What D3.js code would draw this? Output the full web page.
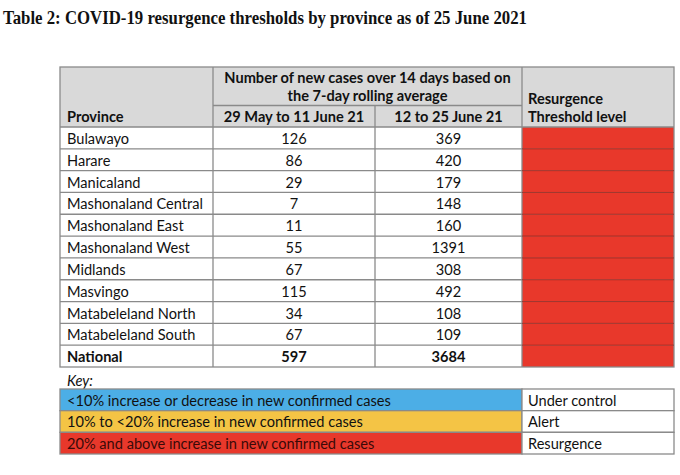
<!DOCTYPE html>
<html lang="en">
<head>
<meta charset="utf-8">
<title>COVID-19 resurgence thresholds</title>
<script src="https://cdn.jsdelivr.net/npm/d3@7"></script>
<style>
  body { margin: 0; background: #fff; }
  text { font-family: Lato, "Open Sans", sans-serif; fill: #111; }
</style>
</head>
<body>
<script>
// data
var provinces = ["Bulawayo", "Harare", "Manicaland", "Mashonaland Central", "Mashonaland East",
                 "Mashonaland West", "Midlands", "Masvingo", "Matabeleland North", "Matabeleland South", "National"];
var period1 = [126, 86, 29, 7, 11, 55, 67, 115, 34, 67, 597];
var period2 = [369, 420, 179, 148, 160, 1391, 308, 492, 108, 109, 3684];
var thresholdLevel = ["Resurgence", "Resurgence", "Resurgence", "Resurgence", "Resurgence",
                      "Resurgence", "Resurgence", "Resurgence", "Resurgence", "Resurgence", "Resurgence"];
var keyLabels = ["<10% increase or decrease in new confirmed cases",
                 "10% to <20% increase in new confirmed cases",
                 "20% and above increase in new confirmed cases"];
var keyLevels = ["Under control", "Alert", "Resurgence"];

var width = 680, height = 475;
var border = "#8a8a8a";
var fs = "14.6px";
var colour = d3.scaleOrdinal()
    .domain(["Under control", "Alert", "Resurgence"])
    .range(["#4caee6", "#f4c445", "#e8382b"]);

// column edges
var x0 = 60, x1 = 213, x2 = 375, x3 = 522, x4 = 674;

var svg = d3.select("body").append("svg")
    .attr("width", width)
    .attr("height", height);

svg.append("text")
    .attr("x", 3).attr("y", 24)
    .attr("textLength", 524).attr("lengthAdjust", "spacingAndGlyphs")
    .style("font-family", "'Liberation Serif', 'Times New Roman', serif")
    .style("font-weight", "bold").style("font-size", "18px")
    .text("Table 2: COVID-19 resurgence thresholds by province as of 25 June 2021");

// header
var headTop = 67, headMid = 105.5, headBot = 127;
svg.append("rect")
    .attr("x", x0).attr("y", headTop)
    .attr("width", x4 - x0).attr("height", headBot - headTop)
    .attr("fill", "#d9d9d9");

var head = svg.append("g").style("font-weight", "bold").style("font-size", fs);
head.append("text").attr("x", 67).attr("y", 122).text("Province");
head.append("text").attr("x", (x1 + x3) / 2).attr("y", 83).attr("text-anchor", "middle")
    .text("Number of new cases over 14 days based on");
head.append("text").attr("x", (x1 + x3) / 2).attr("y", 101).attr("text-anchor", "middle")
    .text("the 7-day rolling average");
head.append("text").attr("x", (x1 + x2) / 2).attr("y", 122).attr("text-anchor", "middle")
    .text("29 May to 11 June 21");
head.append("text").attr("x", (x2 + x3) / 2).attr("y", 122).attr("text-anchor", "middle")
    .text("12 to 25 June 21");
head.append("text").attr("x", 528).attr("y", 104).text("Resurgence");
head.append("text").attr("x", 528).attr("y", 122).text("Threshold level");

// body rows
var y = d3.scaleBand().domain(provinces).range([headBot, 367]);
var rows = provinces.map(function(p, i) {
  return {name: p, a: period1[i], b: period2[i], level: thresholdLevel[i]};
});

svg.selectAll("rect.level")
    .data(rows).enter().append("rect")
    .attr("class", "level")
    .attr("x", x3).attr("y", function(d) { return y(d.name); })
    .attr("width", x4 - x3).attr("height", y.bandwidth())
    .attr("fill", function(d) { return colour(d.level); });

var rowG = svg.selectAll("g.row")
    .data(rows).enter().append("g")
    .attr("class", "row")
    .attr("transform", function(d) { return "translate(0," + y(d.name) + ")"; })
    .style("font-size", fs)
    .style("font-weight", function(d) { return d.name === "National" ? "bold" : "normal"; });

rowG.append("text").attr("x", 67).attr("y", 17).text(function(d) { return d.name; });
rowG.append("text").attr("x", (x1 + x2) / 2).attr("y", 17).attr("text-anchor", "middle")
    .text(function(d) { return d.a; });
rowG.append("text").attr("x", (x2 + x3) / 2).attr("y", 17).attr("text-anchor", "middle")
    .text(function(d) { return d.b; });

// grid lines
var grid = svg.append("g").attr("stroke", border).attr("stroke-width", 1.3).attr("fill", "none");
grid.append("rect").attr("x", x0).attr("y", headTop).attr("width", x4 - x0).attr("height", 367 - headTop);
grid.append("line").attr("x1", x1).attr("x2", x3).attr("y1", headMid).attr("y2", headMid);
grid.append("line").attr("x1", x0).attr("x2", x4).attr("y1", headBot).attr("y2", headBot);
[x1, x3].forEach(function(x) {
  grid.append("line").attr("x1", x).attr("x2", x).attr("y1", headTop).attr("y2", 367);
});
grid.append("line").attr("x1", x2).attr("x2", x2).attr("y1", headMid).attr("y2", 367);
grid.selectAll("line.rowline")
    .data(provinces.slice(1)).enter().append("line")
    .attr("x1", x0).attr("x2", x3)
    .attr("y1", function(d) { return y(d); }).attr("y2", function(d) { return y(d); });
grid.selectAll("line.redline")
    .data(provinces.slice(1)).enter().append("line")
    .attr("stroke", "#8a2a22").attr("stroke-width", 0.8)
    .attr("x1", x3).attr("x2", x4)
    .attr("y1", function(d) { return y(d); }).attr("y2", function(d) { return y(d); });

// key
svg.append("text").attr("x", 67).attr("y", 386)
    .style("font-size", fs).style("font-style", "italic").text("Key:");

var ky = d3.scaleBand().domain(keyLevels).range([389, 454]);
var keyG = svg.selectAll("g.key")
    .data(keyLevels).enter().append("g")
    .attr("class", "key")
    .attr("transform", function(d) { return "translate(0," + ky(d) + ")"; });

keyG.append("rect").attr("x", x0).attr("y", 0)
    .attr("width", x3 - x0).attr("height", ky.bandwidth())
    .attr("fill", function(d) { return colour(d); })
    .attr("stroke", border).attr("stroke-width", 1.3);
keyG.append("rect").attr("x", x3).attr("y", 0)
    .attr("width", x4 - x3).attr("height", ky.bandwidth())
    .attr("fill", "#fff")
    .attr("stroke", border).attr("stroke-width", 1.3);
keyG.append("text").attr("x", 67).attr("y", 16.5).style("font-size", fs)
    .style("fill", function(d, i) { return i === 2 ? "#3a0a08" : "#111"; })
    .text(function(d, i) { return keyLabels[i]; });
keyG.append("text").attr("x", 528).attr("y", 16.5).style("font-size", fs)
    .text(function(d) { return d; });
</script>
</body>
</html>
